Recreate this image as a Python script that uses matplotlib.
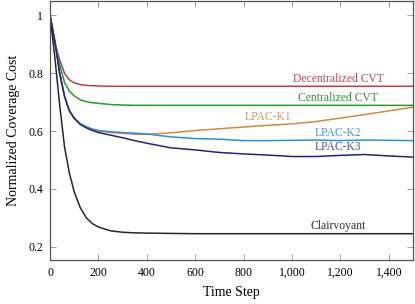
import matplotlib
matplotlib.use("Agg")
import matplotlib.pyplot as plt

# time steps shared by all series
steps = [0, 20, 40, 60, 80, 100, 125, 150, 175, 200, 250, 300, 350, 400,
         500, 600, 700, 800, 900, 1000, 1100, 1200, 1300, 1400, 1500]

decentralized = [1.0, 0.905, 0.846, 0.80, 0.777, 0.767, 0.761, 0.758, 0.757, 0.756, 0.755, 0.755, 0.755,
                 0.755, 0.755, 0.755, 0.755, 0.755, 0.755, 0.755, 0.755, 0.755, 0.755, 0.755, 0.755]
centralized = [1.0, 0.91, 0.83, 0.768, 0.738, 0.722, 0.708, 0.702, 0.698, 0.696, 0.692, 0.690, 0.689,
               0.689, 0.689, 0.689, 0.689, 0.689, 0.689, 0.689, 0.689, 0.689, 0.689, 0.689, 0.689]
lpac_k1 = [1.0, 0.91, 0.80, 0.72, 0.67, 0.645, 0.625, 0.614, 0.606, 0.600, 0.595, 0.592, 0.589,
           0.589, 0.594, 0.602, 0.608, 0.614, 0.620, 0.625, 0.633, 0.645, 0.657, 0.670, 0.683]
lpac_k2 = [1.0, 0.91, 0.80, 0.72, 0.67, 0.645, 0.626, 0.615, 0.607, 0.602, 0.598, 0.595, 0.593,
           0.590, 0.580, 0.574, 0.572, 0.567, 0.567, 0.568, 0.569, 0.567, 0.569, 0.568, 0.567]
lpac_k3 = [1.0, 0.91, 0.80, 0.72, 0.67, 0.644, 0.623, 0.611, 0.602, 0.595, 0.586, 0.577, 0.567,
           0.558, 0.542, 0.535, 0.526, 0.521, 0.517, 0.512, 0.512, 0.516, 0.519, 0.514, 0.510]
clairvoyant = [1.0, 0.855, 0.69, 0.545, 0.455, 0.39, 0.335, 0.30, 0.28, 0.268, 0.255, 0.25, 0.248,
               0.247, 0.246, 0.245, 0.245, 0.245, 0.245, 0.245, 0.245, 0.245, 0.245, 0.245, 0.245]

names = ["Decentralized CVT", "Centralized CVT", "LPAC-K1", "LPAC-K2", "LPAC-K3", "Clairvoyant"]
series = [decentralized, centralized, lpac_k1, lpac_k2, lpac_k3, clairvoyant]
colors = ["#c23b4a", "#2a9a2a", "#d08a45", "#2f8fd2", "#24247a", "#26262e"]
text_colors = ["#c04a58", "#2f932f", "#d59a60", "#4a9ad6", "#5050a0", "#303038"]
# label anchor (step, value)
label_pos = [(1190, 0.781), (1190, 0.713), (900, 0.649), (1190, 0.595), (1190, 0.544), (1190, 0.272)]

xticks = [0, 200, 400, 600, 800, 1000, 1200, 1400]
xticklabels = ["0", "200", "400", "600", "800", "1,000", "1,200", "1,400"]
yticks = [0.2, 0.4, 0.6, 0.8, 1.0]
yticklabels = ["0.2", "0.4", "0.6", "0.8", "1"]

plt.rcParams['font.family'] = ['Liberation Serif', 'DejaVu Serif']

fig = plt.figure(figsize=(4.15, 3.04), dpi=100)
ax = fig.add_axes([0.1205, 0.1447, 0.8747, 0.852])

for name, ys, c, tc, (lx, ly) in zip(names, series, colors, text_colors, label_pos):
    ax.plot(steps, ys, color=c, lw=1.1)
    ax.text(lx, ly, name, color=tc, fontsize=8.4, ha='center', va='center')

ax.set_xlim(0, 1500)
ax.set_ylim(0.154, 1.05)
ax.set_xticks(xticks)
ax.set_xticklabels(xticklabels)
ax.set_yticks(yticks)
ax.set_yticklabels(yticklabels)
ax.tick_params(direction='in', length=4, width=0.6, color='#909090',
               top=True, right=True, labelsize=8.5, pad=5)
for s in ax.spines.values():
    s.set_color('#555555')
    s.set_linewidth(0.9)

ax.set_xlabel("Time Step", fontsize=10, labelpad=5)
ax.set_ylabel("Normalized Coverage Cost", fontsize=10, labelpad=6)

fig.savefig("out.png", dpi=100)
